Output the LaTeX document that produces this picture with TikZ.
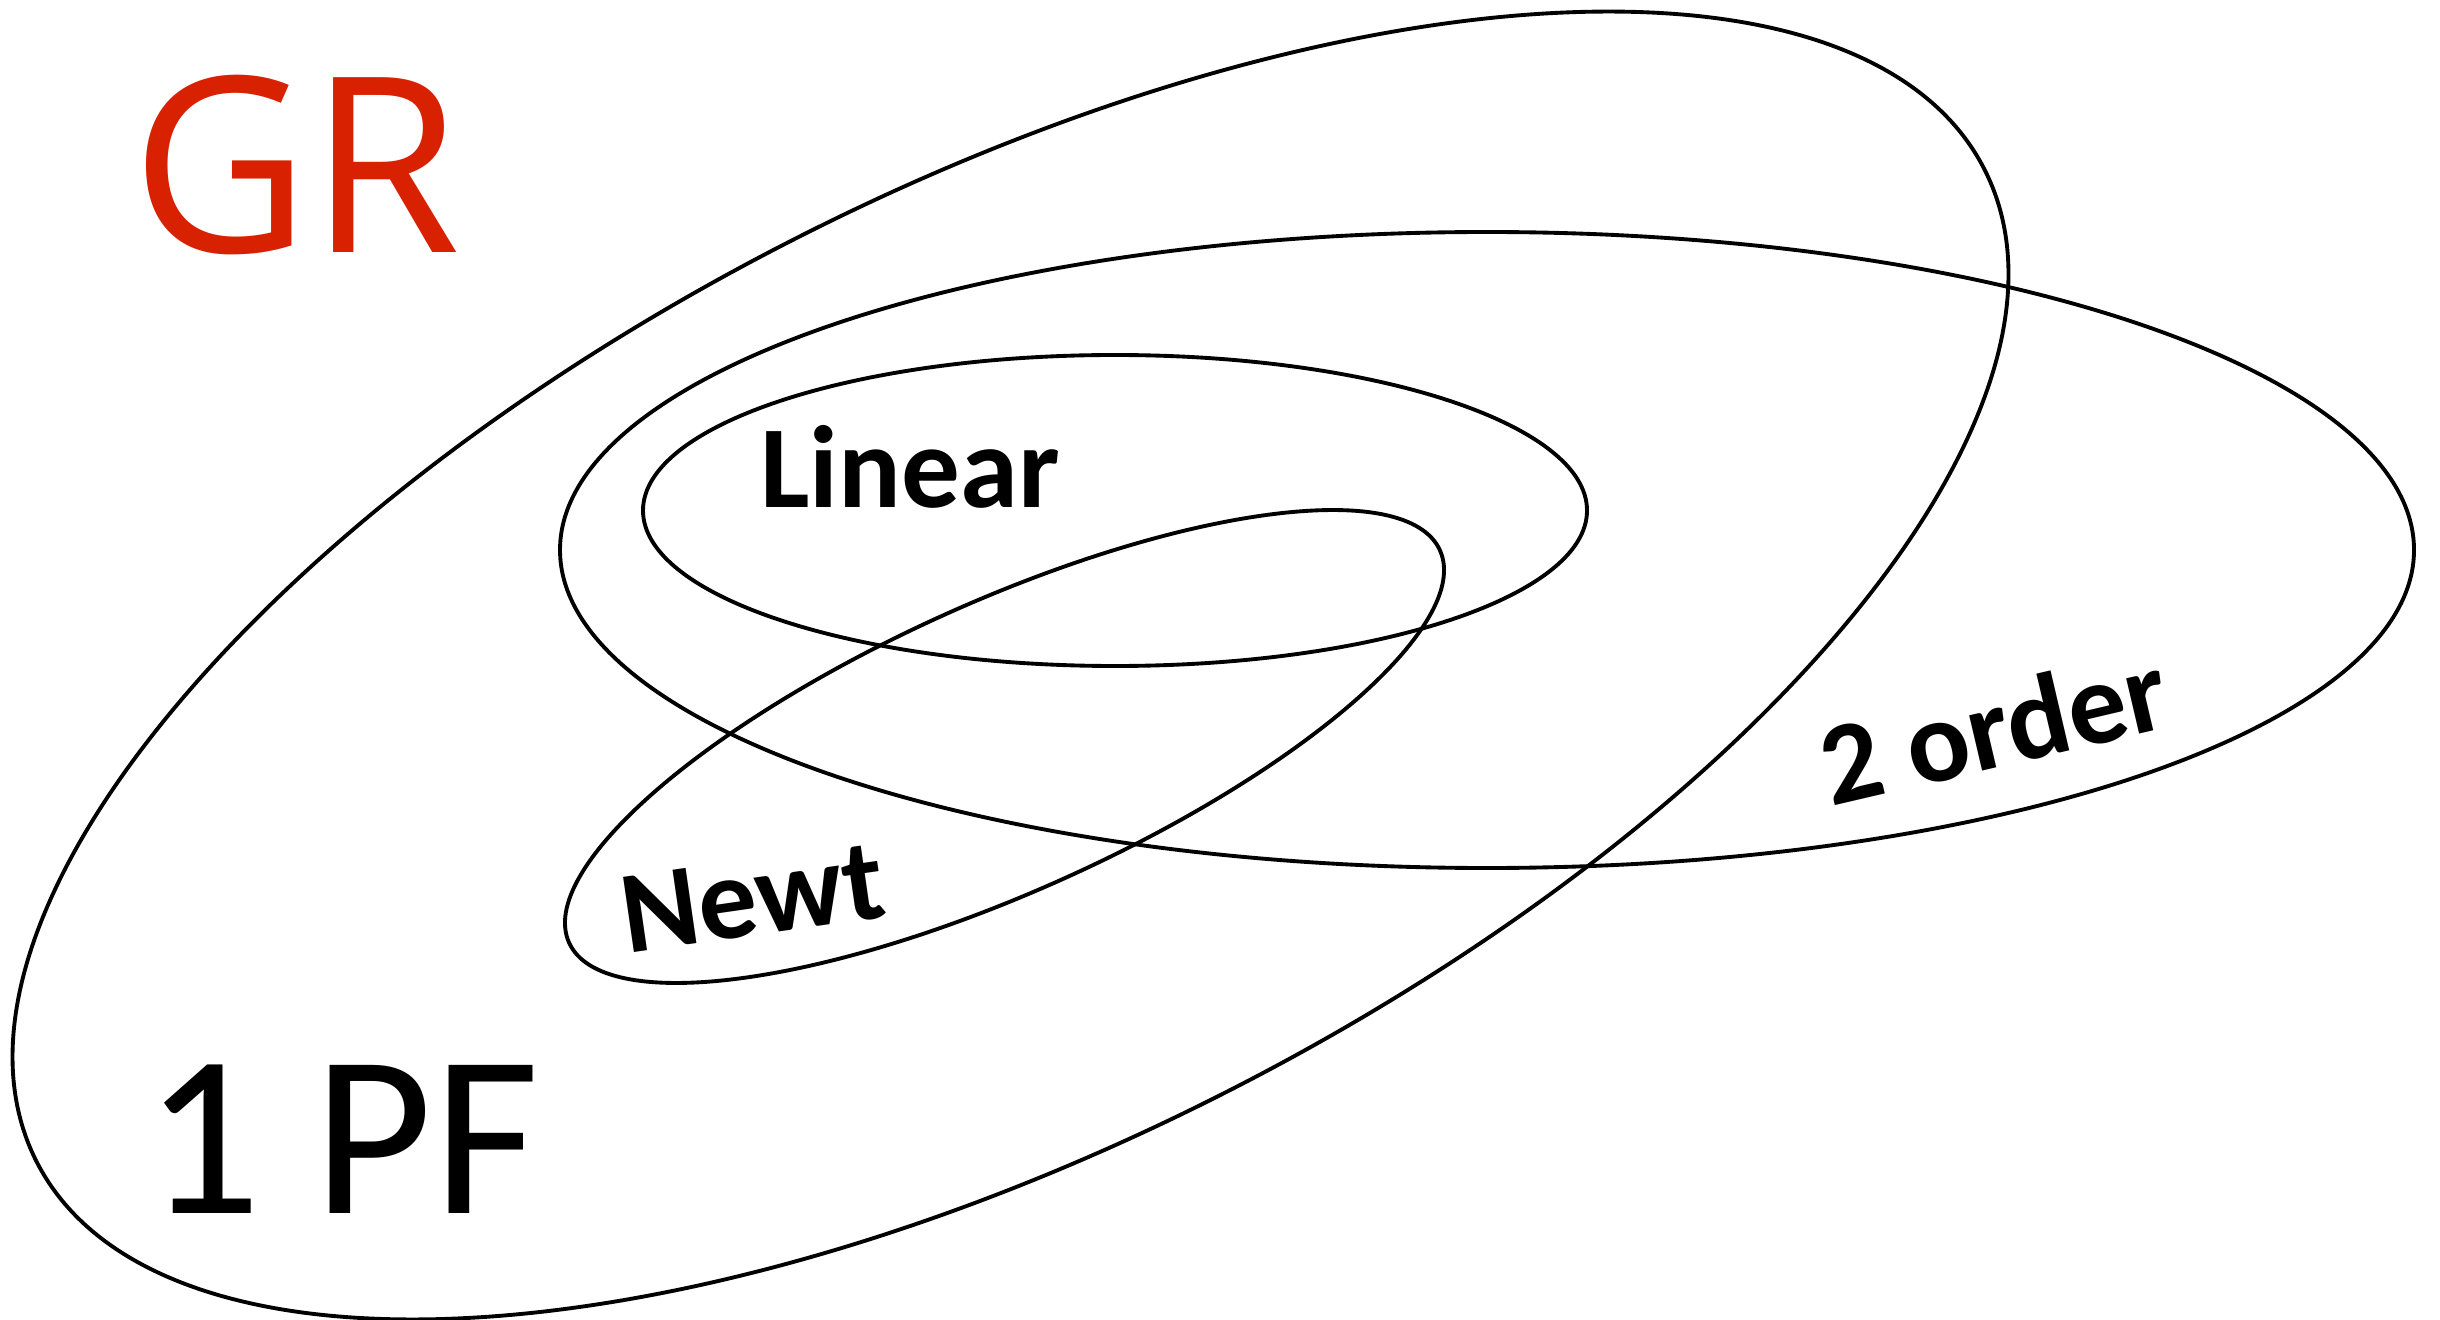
\documentclass[tikz,border=0pt]{standalone}
\usepackage{fontspec}
\setmainfont{Carlito}
\newfontfamily\grfont{Open Sans}
\definecolor{grred}{HTML}{D82100}

\begin{document}
\begin{tikzpicture}[
  line width=1.1pt,
  setlabel/.style={inner sep=0pt,anchor=base,
    font=\bfseries\fontsize{33.3}{40}\selectfont},
  grlabel/.style={inner sep=0pt,anchor=base,text=grred,
    font=\grfont\fontsize{69.7}{84}\selectfont},
  pflabel/.style={inner sep=0pt,anchor=base,
    font=\fontsize{65.7}{79}\selectfont}
]

% Frame of the whole figure
\useasboundingbox (0,0) rectangle (24.4,-13.2);

% First post-Friedmann set, the large tilted ellipse
\draw[shift={(10.105,-6.655)},rotate=27]
  (0,0) ellipse [x radius=10.93cm, y radius=4.78cm];

% Second order set
\draw
  (14.87,-5.50) ellipse [x radius=9.27cm, y radius=3.18cm];

% Linear set
\draw
  (11.15,-5.105) ellipse [x radius=4.72cm, y radius=1.555cm];

% Newtonian set, tilted
\draw[shift={(10.045,-7.465)},rotate=24.25]
  (0,0) ellipse [x radius=4.776cm, y radius=1.448cm];

% Corner labels
\node[grlabel] (gr)
  at (2.96,-2.53) {GR};

\node[pflabel] (pf)
  at (3.42,-12.13) {1 PF};

% Labels of the inner sets
\node[setlabel] (linear)
  at (9.10,-5.07) {Linear};

\node[setlabel,rotate=8.2] (newt)
  at (7.58,-9.35) {Newt};

\node[setlabel,rotate=13.2] (order)
  at (20.03,-7.667) {2 order};

\end{tikzpicture}
\end{document}
